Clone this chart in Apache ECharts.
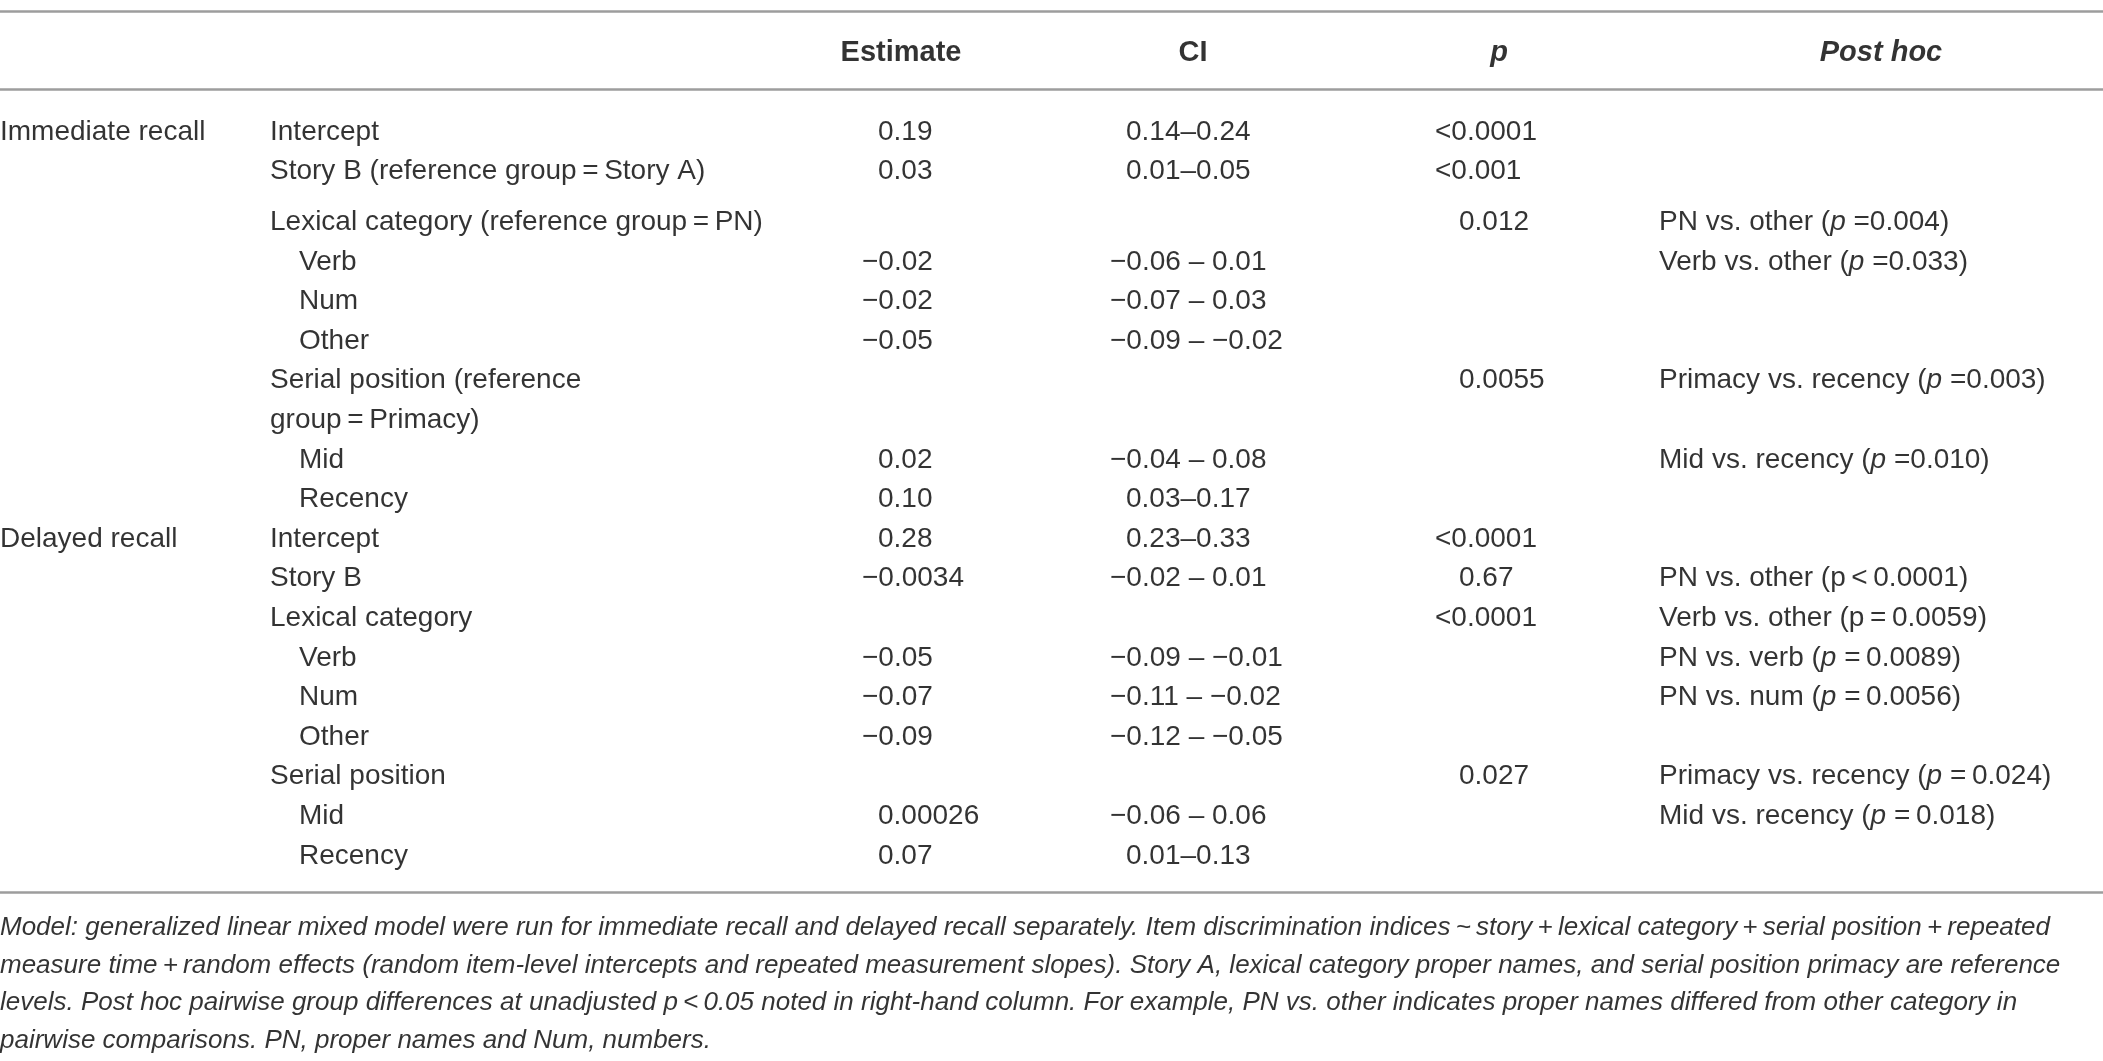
<!DOCTYPE html>
<html>
<head>
<meta charset="utf-8">
<script src="https://cdn.jsdelivr.net/npm/echarts@6/dist/echarts.min.js"></script>
<style>html,body{margin:0;padding:0;background:#fff}#c{width:2103px;height:1061px}</style>
</head>
<body>
<div id="c"></div>
<script>
// ---------------- DATA ----------------
const headers = ['Estimate', 'CI', 'p', 'Post hoc'];
const groups = ['Immediate recall', '', '', '', '', '', '', '', '', '',
                'Delayed recall', '', '', '', '', '', '', '', ''];
const terms = [
  'Intercept',
  'Story B (reference group\u2009=\u2009Story A)',
  'Lexical category (reference group\u2009=\u2009PN)',
  'Verb', 'Num', 'Other',
  'Serial position (reference',
  'group\u2009=\u2009Primacy)',
  'Mid', 'Recency',
  'Intercept', 'Story B', 'Lexical category',
  'Verb', 'Num', 'Other',
  'Serial position', 'Mid', 'Recency'
];
const termLevel = [0, 0, 0, 1, 1, 1, 0, 0, 1, 1, 0, 0, 0, 1, 1, 1, 0, 1, 1];
const estimates = ['0.19', '0.03', '', '\u22120.02', '\u22120.02', '\u22120.05', '', '', '0.02', '0.10',
                   '0.28', '\u22120.0034', '', '\u22120.05', '\u22120.07', '\u22120.09', '', '0.00026', '0.07'];
const ciValues = ['0.14\u20130.24', '0.01\u20130.05', '', '\u22120.06 \u2013 0.01', '\u22120.07 \u2013 0.03',
                  '\u22120.09 \u2013 \u22120.02', '', '', '\u22120.04 \u2013 0.08', '0.03\u20130.17',
                  '0.23\u20130.33', '\u22120.02 \u2013 0.01', '', '\u22120.09 \u2013 \u22120.01',
                  '\u22120.11 \u2013 \u22120.02', '\u22120.12 \u2013 \u22120.05', '', '\u22120.06 \u2013 0.06', '0.01\u20130.13'];
const pValues = ['<0.0001', '<0.001', '0.012', '', '', '', '0.0055', '', '', '',
                 '<0.0001', '0.67', '<0.0001', '', '', '', '0.027', '', ''];
const postHoc = [
  '', '',
  'PN vs. other ({i|p} =0.004)',
  'Verb vs. other ({i|p} =0.033)',
  '', '',
  'Primacy vs. recency ({i|p} =0.003)',
  '',
  'Mid vs. recency ({i|p} =0.010)',
  '', '',
  'PN vs. other (p\u2009<\u20090.0001)',
  'Verb vs. other (p\u2009=\u20090.0059)',
  'PN vs. verb ({i|p} =\u20090.0089)',
  'PN vs. num ({i|p} =\u20090.0056)',
  '',
  'Primacy vs. recency ({i|p} =\u20090.024)',
  'Mid vs. recency ({i|p} =\u20090.018)',
  ''
];
const footnoteLines = [
  'Model: generalized linear mixed model were run for immediate recall and delayed recall separately. Item discrimination indices\u2009~\u2009story\u2009+\u2009lexical category\u2009+\u2009serial position\u2009+\u2009repeated',
  'measure time\u2009+\u2009random effects (random item-level intercepts and repeated measurement slopes). Story A, lexical category proper names, and serial position primacy are reference',
  'levels. Post hoc pairwise group differences at unadjusted p\u2009<\u20090.05 noted in right-hand column. For example, PN vs. other indicates proper names differed from other category in',
  'pairwise comparisons. PN, proper names and Num, numbers.'
];

// ---------------- LAYOUT ----------------
const W = 2103, H = 1061;
const FONT = 'Liberation Sans';
const FS = 28, FS_HEAD = 29, FS_NOTE = 26;
const TXT = '#000';
const L = {
  ruleY: [11, 89, 892],
  headerY: 53,
  headerX: [901, 1193, 1499, 1881],
  groupX: 0, termX: 270, termIndent: 29,
  estX: 878, ciX: 1126, pX: 1459, postX: 1659,
  hang: { est: 16, ci: 16, p: 24 },
  row0: 132, rowStep: 39.6, gapAfter: 1, gapExtra: 11,
  noteY: 928, noteStep: 37.6
};
function rowY(i) { return L.row0 + i * L.rowStep + (i > L.gapAfter ? L.gapExtra : 0); }

const baseLabel = {
  show: true, position: 'inside', align: 'left', verticalAlign: 'middle',
  fontFamily: FONT, fontSize: FS, color: TXT, formatter: '{b}',
  rich: { i: { fontStyle: 'italic', fontFamily: FONT, fontSize: FS, color: TXT } }
};
function textSeries(name, items, extra) {
  return {
    name: name, type: 'scatter', symbolSize: 0, silent: true,
    data: items, label: Object.assign({}, baseLabel, extra || {})
  };
}
function colItems(arr, x, hang, fn) {
  const out = [];
  arr.forEach((t, i) => {
    if (!t) return;
    const it = { name: t, value: [x + (fn ? fn(i) : 0), rowY(i)] };
    if (hang && /^[\u2212<]/.test(t)) it.label = { offset: [-hang, 0] };
    out.push(it);
  });
  return out;
}

const series = [
  textSeries('groups', colItems(groups, L.groupX, 0)),
  textSeries('terms', colItems(terms, L.termX, 0, i => termLevel[i] * L.termIndent)),
  textSeries('estimates', colItems(estimates, L.estX, L.hang.est)),
  textSeries('ci', colItems(ciValues, L.ciX, L.hang.ci)),
  textSeries('p', colItems(pValues, L.pX, L.hang.p)),
  textSeries('posthoc', colItems(postHoc, L.postX, 0)),
  textSeries('headers', headers.map((h, k) => ({ name: h, value: [L.headerX[k], L.headerY],
      label: { fontStyle: k >= 2 ? 'italic' : 'normal' } })),
    { align: 'center', fontWeight: 'bold', fontSize: FS_HEAD }),
  textSeries('notes', footnoteLines.map((t, k) => ({ name: t, value: [0, L.noteY + k * L.noteStep] })),
    { fontStyle: 'italic', fontSize: FS_NOTE }),
];
series[0].markLine = {
  silent: true, symbol: ['none', 'none'], animation: false,
  label: { show: false },
  lineStyle: { color: '#9d9d9d', width: 2.5, type: 'solid' },
  data: L.ruleY.map(y => ({ yAxis: y }))
};

const chart = echarts.init(document.getElementById('c'), null, { renderer: 'canvas' });
chart.setOption({
  animation: false,
  backgroundColor: '#ffffff',
  grid: { left: 0, right: 0, top: 0, bottom: 0 },
  xAxis: { type: 'value', min: 0, max: W, show: false },
  yAxis: { type: 'value', min: 0, max: H, inverse: true, show: false },
  series: series
});
</script>
</body>
</html>
